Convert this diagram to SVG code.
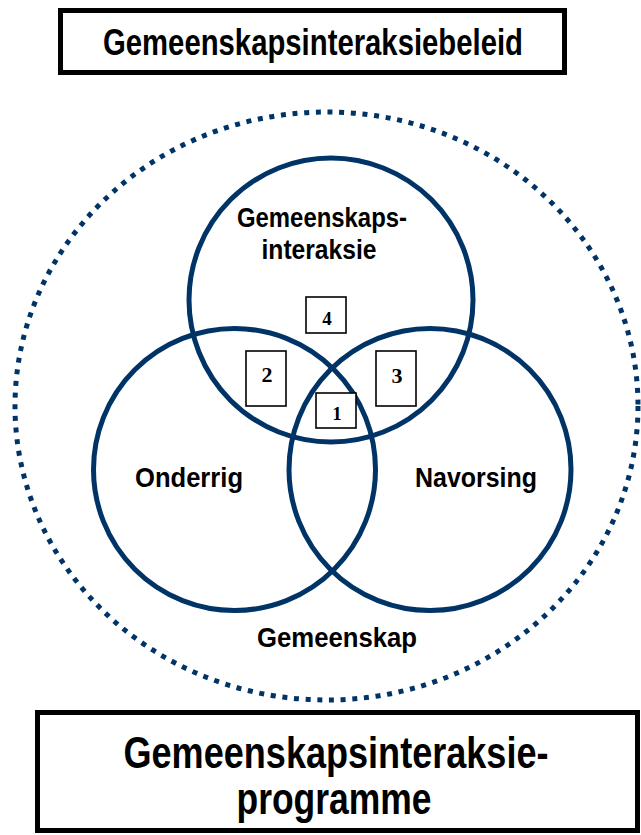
<svg xmlns="http://www.w3.org/2000/svg" width="641" height="835" viewBox="0 0 641 835">
<style>
.frame{fill:#fff;stroke:#000;stroke-width:5}
.ring{fill:none;stroke:#003366;stroke-width:5}
.dots{fill:none;stroke:#003366;stroke-width:5;stroke-dasharray:5 6.7}
.lbl{font-family:"Liberation Sans Narrow","Arial Narrow","Liberation Sans",Arial,sans-serif;font-weight:bold;fill:#000;text-anchor:middle}
.num{fill:#fff;stroke:#000;stroke-width:1.6}
.numt{font-family:"Liberation Serif","Times New Roman",serif;font-weight:bold;fill:#000;text-anchor:middle}
</style>
<rect width="641" height="835" fill="#fff"/>
<g id="policy">
<rect class="frame" x="60.5" y="10.5" width="504" height="62"/>
<text class="lbl" x="313" y="55" font-size="36" textLength="420" lengthAdjust="spacingAndGlyphs">Gemeenskapsinteraksiebeleid</text>
</g>
<g id="community">
<ellipse class="dots" cx="326.5" cy="406" rx="311.5" ry="294"/>
<text class="lbl" x="337" y="647" font-size="27" textLength="160" lengthAdjust="spacingAndGlyphs">Gemeenskap</text>
</g>
<g id="interaction">
<circle class="ring" cx="331" cy="300" r="142"/>
<text class="lbl" x="322" y="227" font-size="28" textLength="170" lengthAdjust="spacingAndGlyphs">Gemeenskaps-</text>
<text class="lbl" x="319" y="259" font-size="28" textLength="115" lengthAdjust="spacingAndGlyphs">interaksie</text>
</g>
<g id="teaching">
<circle class="ring" cx="234.5" cy="469.5" r="141"/>
<text class="lbl" x="189" y="487" font-size="28" textLength="108" lengthAdjust="spacingAndGlyphs">Onderrig</text>
</g>
<g id="research">
<circle class="ring" cx="430" cy="469.5" r="141"/>
<text class="lbl" x="476" y="487" font-size="28" textLength="122" lengthAdjust="spacingAndGlyphs">Navorsing</text>
</g>
<g id="box4">
<rect class="num" x="306" y="297" width="40" height="36"/>
<text class="numt" x="327" y="325" font-size="19">4</text>
</g>
<g id="box2">
<rect class="num" x="246" y="351" width="40" height="55"/>
<text class="numt" x="267" y="382" font-size="22">2</text>
</g>
<g id="box3">
<rect class="num" x="376" y="351" width="40" height="55"/>
<text class="numt" x="397" y="383" font-size="22">3</text>
</g>
<g id="box1">
<rect class="num" x="316" y="393" width="40" height="35"/>
<text class="numt" x="337" y="420" font-size="19">1</text>
</g>
<g id="programme">
<rect class="frame" x="37.5" y="712.5" width="600" height="118"/>
<text class="lbl" x="336" y="768" font-size="44" textLength="425" lengthAdjust="spacingAndGlyphs">Gemeenskapsinteraksie-</text>
<text class="lbl" x="334" y="814" font-size="44" textLength="195" lengthAdjust="spacingAndGlyphs">programme</text>
</g>
<g id="connectors"></g>
</svg>
